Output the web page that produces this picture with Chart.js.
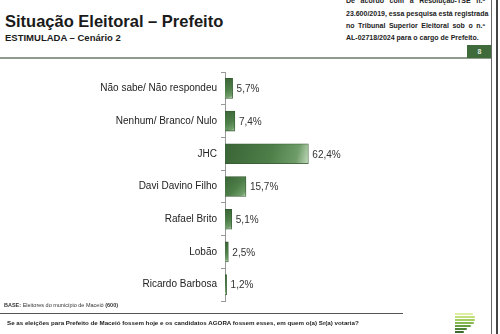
<!DOCTYPE html>
<html>
<head>
<meta charset="utf-8">
<script src="https://cdn.jsdelivr.net/npm/chart.js@4.4.1/dist/chart.umd.min.js"></script>
<style>
  body { margin: 0; background: #fff; font-family: "Liberation Sans", Arial, sans-serif; }
  #page { position: relative; width: 500px; height: 334px; overflow: hidden; background: #fff; }
  .abs { position: absolute; }
  #title { left: 5px; top: 12px; font-size: 16.5px; font-weight: bold; color: #1a1a1a; }
  #sub { left: 5px; top: 32px; font-size: 9.5px; font-weight: bold; color: #1a1a1a; }
  .note { left: 346px; width: 139px; font-size: 7px; font-weight: bold; color: #222; text-align: justify; text-align-last: justify; white-space: nowrap; }
  #hline { left: 0; top: 57px; width: 491px; height: 1.5px; background: #8e9c8b; }
  #pagebox { left: 467px; top: 45px; width: 25px; height: 13px; background: #3f6a3a; color: #dfe8dc; font-size: 7px; text-align: center; line-height: 13px; font-weight: bold; }
  #vline1 { left: 491px; top: 0; width: 1px; height: 334px; background: #666; }
  #vline2 { left: 496px; top: 0; width: 1.5px; height: 334px; background: #444; }
  #base { left: 4px; top: 302px; font-size: 5.5px; color: #333; }
  #bline { left: 0; top: 313px; width: 403px; height: 1px; background: #555; }
  #question { left: 7px; top: 319px; font-size: 6.2px; font-weight: bold; color: #222; }
  #chartbox { left: 0; top: 62px; width: 420px; height: 249px; }
  .stripe { position: absolute; height: 2px; border-radius: 0 2px 2px 0; }
</style>
</head>
<body>
<div id="page">
  <div class="abs" id="title">Situação Eleitoral – Prefeito</div>
  <div class="abs" id="sub">ESTIMULADA – Cenário 2</div>
  <div class="abs note" style="top:-3px">De acordo com a Resolução-TSE n.º</div>
  <div class="abs note" style="top:10px">23.600/2019, essa pesquisa está registrada</div>
  <div class="abs note" style="top:22px">no Tribunal Superior Eleitoral sob o n.º</div>
  <div class="abs note" style="top:34px; text-align-last:left; width:auto">AL-02718/2024 para o cargo de Prefeito.</div>
  <div class="abs" id="hline"></div>
  <div class="abs" id="pagebox">8</div>
  <div class="abs" id="vline1"></div>
  <div class="abs" id="vline2"></div>
  <div class="abs" id="chartbox"><canvas id="chart"></canvas></div>
  <div class="abs" id="base"><b>BASE:</b> Eleitores do município de Maceió <b>(600)</b></div>
  <div class="abs" id="bline"></div>
  <div class="abs" id="question">Se as eleições para Prefeito de Maceió fossem hoje e os candidatos AGORA fossem esses, em quem o(a) Sr(a) votaria?</div>
  <div class="abs" id="logo" style="left:455px; top:313px; width:22px; height:21px;"></div>
</div>
<script>
const categories = ['Não sabe/ Não respondeu', 'Nenhum/ Branco/ Nulo', 'JHC', 'Davi Davino Filho', 'Rafael Brito', 'Lobão', 'Ricardo Barbosa'];
const values = [5.7, 7.4, 62.4, 15.7, 5.1, 2.5, 1.2];
const valueLabels = ['5,7%', '7,4%', '62,4%', '15,7%', '5,1%', '2,5%', '1,2%'];

// logo stripes
const logoColors = ['#dfeea0', '#c4e07a', '#a6cf62', '#86b950', '#659f42', '#4c8538', '#3a6c30'];
const logoWidths = [18, 20, 20, 19, 16, 12, 9];
const logo = document.getElementById('logo');
logoColors.forEach((c, i) => {
  const s = document.createElement('div');
  s.className = 'stripe';
  s.style.top = (i * 3) + 'px';
  s.style.width = logoWidths[i] + 'px';
  s.style.background = c;
  logo.appendChild(s);
});

const barFill = (context) => {
  const chart = context.chart;
  const x = chart.scales.x, y = chart.scales.y;
  if (!chart.chartArea || !x || !y || context.dataIndex === undefined) return '#4a7a45';
  const v = context.raw;
  const x0 = x.getPixelForValue(0), x1 = x.getPixelForValue(v);
  const yc = y.getPixelForValue(context.dataIndex);
  const g = chart.ctx.createLinearGradient(x0, yc - 10, x1, yc + 10);
  g.addColorStop(0, '#3a6436');
  g.addColorStop(0.55, '#4e7f49');
  g.addColorStop(0.85, '#6f9c69');
  g.addColorStop(1, '#c3dbbd');
  return g;
};

const valueLabelPlugin = {
  id: 'valueLabels',
  afterDatasetsDraw(chart) {
    const ctx = chart.ctx;
    const meta = chart.getDatasetMeta(0);
    ctx.save();
    ctx.font = '10px "Liberation Sans", Arial, sans-serif';
    ctx.fillStyle = '#333';
    ctx.textBaseline = 'middle';
    ctx.textAlign = 'left';
    meta.data.forEach((bar, i) => {
      ctx.fillText(valueLabels[i], bar.x + 4, bar.y + 1);
    });
    ctx.restore();
  }
};

new Chart(document.getElementById('chart').getContext('2d'), {
  type: 'bar',
  data: {
    labels: categories,
    datasets: [{
      data: values,
      backgroundColor: barFill,
      borderColor: '#355a31',
      borderWidth: 0.8,
      barThickness: 20,
    }],
  },
  options: {
    indexAxis: 'y',
    responsive: true,
    maintainAspectRatio: false,
    animation: false,
    layout: { padding: 0 },
    plugins: {
      legend: { display: false },
      tooltip: { enabled: false },
    },
    scales: {
      x: {
        display: false,
        min: 0,
        max: 146,
      },
      y: {
        afterFit: (scale) => { scale.width = 225; },
        grid: {
          display: true,
          drawOnChartArea: false,
          drawTicks: true,
          tickLength: 4,
          color: '#999',
          offset: true,
        },
        border: { display: true, color: '#999', width: 1 },
        ticks: {
          padding: 4,
          color: '#222',
          font: { family: '"Liberation Sans", Arial, sans-serif', size: 10 },
        },
      },
    },
  },
  plugins: [valueLabelPlugin],
});
</script>
</body>
</html>
